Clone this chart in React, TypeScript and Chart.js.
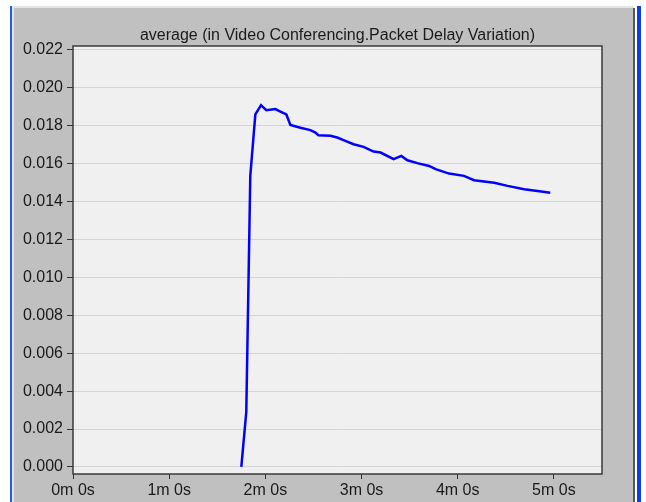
import React, { useEffect, useRef } from "react";
import { Chart, registerables } from "chart.js";

Chart.register(...registerables);

const titleText = "average (in Video Conferencing.Packet Delay Variation)";

// time in seconds
const timesSec = [
  105.0, 108.1, 110.6, 113.75, 117.3, 120.6, 126.25, 129.4, 133.1, 135.6,
  141.9, 148.1, 151.25, 153.1, 160.6, 164.8, 168.75, 175.0, 181.25, 187.5,
  191.9, 200.0, 204.8, 208.6, 214.8, 222.1, 226.25, 234.6, 243.9, 250.2,
  262.7, 271.1, 281.4, 289.8, 297.7,
];

const values = [
  0.0, 0.0029, 0.01536, 0.0186, 0.01909, 0.01882, 0.01888, 0.01875, 0.0186, 0.01805,
  0.0179, 0.01777, 0.01764, 0.0175, 0.01747, 0.01738, 0.01724, 0.01703, 0.01689, 0.01664,
  0.01659, 0.01624, 0.01641, 0.01618, 0.01603, 0.01588, 0.01571, 0.01548, 0.01536, 0.01513,
  0.015, 0.01483, 0.01465, 0.01456, 0.01447,
];

const yTickValues = [0, 0.002, 0.004, 0.006, 0.008, 0.01, 0.012, 0.014, 0.016, 0.018, 0.02, 0.022];
const xTickValues = [0, 60, 120, 180, 240, 300];
const xTickLabels = ["0m 0s", "1m 0s", "2m 0s", "3m 0s", "4m 0s", "5m 0s"];

const FONT = "'Liberation Sans', Arial, sans-serif";

export default function App() {
  const ref = useRef<HTMLCanvasElement>(null);

  useEffect(() => {
    const plotFrame = {
      id: "plotFrame",
      beforeDraw(chart: any) {
        const { ctx, chartArea: a } = chart;
        ctx.save();
        ctx.fillStyle = "#f0f0f0";
        ctx.fillRect(a.left, a.top, a.right - a.left, a.bottom - a.top);
        ctx.restore();
      },
      afterDraw(chart: any) {
        const { ctx, chartArea: a } = chart;
        ctx.save();
        ctx.strokeStyle = "#3a3a3a";
        ctx.lineWidth = 1.5;
        ctx.strokeRect(a.left, a.top, a.right - a.left, a.bottom - a.top);
        ctx.restore();
      },
    };

    const chart = new Chart(ref.current as HTMLCanvasElement, {
      type: "line",
      data: {
        datasets: [
          {
            data: timesSec.map((t, i) => ({ x: t, y: values[i] })),
            borderColor: "#0000ff",
            borderWidth: 2.5,
            pointRadius: 0,
            tension: 0,
            fill: false,
          },
        ],
      },
      options: {
        animation: false,
        responsive: false,
        maintainAspectRatio: false,
        layout: { padding: { left: 0, right: 44, top: 0, bottom: 0 } },
        plugins: {
          legend: { display: false },
          tooltip: { enabled: false },
          title: {
            display: true,
            text: titleText,
            fullSize: false,
            color: "#1a1a1a",
            font: { family: FONT, size: 16, weight: "normal", lineHeight: 1.2 },
            padding: { top: 26, bottom: 0.8 },
          },
        },
        scales: {
          x: {
            type: "linear",
            min: 0,
            max: 330,
            afterBuildTicks: (s: any) => {
              s.ticks = xTickValues.map((v) => ({ value: v }));
            },
            afterFit: (s: any) => {
              s.height = 28;
            },
            ticks: {
              callback: (v: any) => {
                const i = xTickValues.indexOf(Number(v));
                return i >= 0 ? xTickLabels[i] : "";
              },
              color: "#1a1a1a",
              font: { family: FONT, size: 16 },
              padding: 2,
              maxRotation: 0,
              autoSkip: false,
            },
            grid: {
              drawOnChartArea: false,
              drawTicks: true,
              tickLength: 5,
              tickColor: "#333333",
            },
            border: { display: false },
          },
          y: {
            min: -0.00037,
            max: 0.02221,
            afterBuildTicks: (s: any) => {
              s.ticks = yTickValues.map((v) => ({ value: v }));
            },
            afterFit: (s: any) => {
              s.width = 73;
            },
            ticks: {
              callback: (v: any) => Number(v).toFixed(3),
              color: "#1a1a1a",
              font: { family: FONT, size: 16 },
              padding: 4,
              autoSkip: false,
            },
            grid: {
              color: "#d4d4d4",
              lineWidth: 1,
              tickColor: "#333333",
              tickLength: 6,
            },
            border: { display: false },
          },
        },
      },
      plugins: [plotFrame],
    } as any);

    return () => chart.destroy();
  }, []);

  return (
    <div
      style={{
        position: "fixed",
        left: 0,
        top: 0,
        width: 646,
        height: 502,
        background: "#ffffff",
        overflow: "hidden",
      }}
    >
      {/* gray panel */}
      <div style={{ position: "absolute", left: 12, top: 6, width: 622, height: 496, background: "#c0c0c0" }} />
      {/* light top/left edges */}
      <div style={{ position: "absolute", left: 12, top: 6, width: 622, height: 2, background: "#e4e4e4" }} />
      <div style={{ position: "absolute", left: 12, top: 6, width: 2, height: 496, background: "#e4e4e4" }} />
      {/* dark right edge */}
      <div style={{ position: "absolute", left: 633, top: 8, width: 2, height: 494, background: "#5a5a5a" }} />
      {/* blue edges */}
      <div style={{ position: "absolute", left: 10, top: 6, width: 2, height: 496, background: "#1d5fe8" }} />
      <div style={{ position: "absolute", left: 637, top: 6, width: 4, height: 496, background: "#0b3df5" }} />
      <canvas
        ref={ref}
        width={646}
        height={502}
        style={{ position: "absolute", left: 0, top: 0, width: 646, height: 502, display: "block" }}
      />
    </div>
  );
}
